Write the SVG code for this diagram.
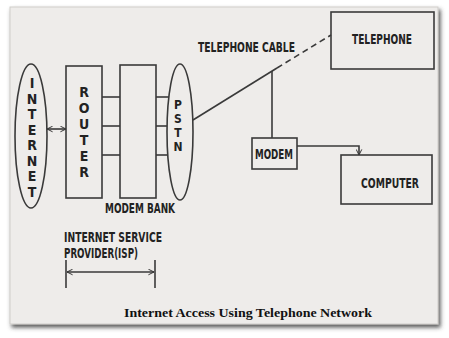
<svg xmlns="http://www.w3.org/2000/svg" width="449" height="338" viewBox="0 0 449 338">
<defs>
<filter id="sh" x="-5%" y="-5%" width="112%" height="115%">
<feDropShadow dx="2" dy="3" stdDeviation="2.2" flood-color="#3a3a3a" flood-opacity="0.85"/>
</filter>
<marker id="ah" viewBox="0 0 10 10" refX="9" refY="5" markerWidth="7" markerHeight="7" orient="auto-start-reverse" markerUnits="userSpaceOnUse">
<path d="M1,1 L9,5 L1,9" fill="none" stroke="#333" stroke-width="1.4"/>
</marker>
</defs>
<style>
.ln{stroke:#3a3a3a;stroke-width:1.6;fill:none}
.bx{stroke:#3a3a3a;stroke-width:1.6;fill:none}
.t{font-family:"Liberation Sans Narrow","DejaVu Sans Condensed","Liberation Sans",sans-serif;font-weight:bold;font-size:14px;fill:#222}
.v{text-anchor:middle}
.p{font-size:12px}
.cap{font-family:"Liberation Serif","Times New Roman",serif;font-weight:bold;font-size:13px;fill:#111}
</style>
<rect x="0" y="0" width="449" height="338" fill="#ffffff"/>
<rect x="10" y="7" width="428" height="317" fill="#eeecea" stroke="#cfcdca" stroke-width="1" filter="url(#sh)"/>

<g id="connectors">
<line class="ln" x1="47" y1="129" x2="66" y2="129" marker-start="url(#ah)" marker-end="url(#ah)"/>
<line class="ln" x1="102" y1="97" x2="120" y2="97"/>
<line class="ln" x1="102" y1="126" x2="120" y2="126"/>
<line class="ln" x1="102" y1="155" x2="120" y2="155"/>
<line class="ln" x1="156" y1="97" x2="169" y2="97"/>
<line class="ln" x1="156" y1="126" x2="167" y2="126"/>
<line class="ln" x1="156" y1="155" x2="168" y2="155"/>
<line class="ln" x1="193" y1="120" x2="277" y2="68"/>
<line class="ln" x1="277" y1="68" x2="331" y2="35" stroke-dasharray="6,4"/>
<line class="ln" x1="272" y1="71" x2="272" y2="138"/>
<polyline class="ln" points="297,146 359,146 359,155" marker-end="url(#ah)"/>
<line class="ln" x1="66" y1="260" x2="66" y2="288"/>
<line class="ln" x1="155" y1="260" x2="155" y2="288"/>
<line class="ln" x1="67" y1="272" x2="154" y2="272" marker-start="url(#ah)" marker-end="url(#ah)"/>
</g>

<g id="internet">
<ellipse class="bx" cx="31" cy="136" rx="16" ry="72"/>
<text class="t v" x="32" y="88">I</text>
<text class="t v" x="32" y="103.5">N</text>
<text class="t v" x="32" y="119">T</text>
<text class="t v" x="32" y="134.5">E</text>
<text class="t v" x="32" y="150">R</text>
<text class="t v" x="32" y="165.5">N</text>
<text class="t v" x="32" y="181">E</text>
<text class="t v" x="32" y="196.5">T</text>
</g>

<g id="router">
<rect class="bx" x="66" y="66" width="36" height="132"/>
<text class="t v" x="84" y="97">R</text>
<text class="t v" x="84" y="113">O</text>
<text class="t v" x="84" y="129">U</text>
<text class="t v" x="84" y="145">T</text>
<text class="t v" x="84" y="161">E</text>
<text class="t v" x="84" y="177">R</text>
</g>

<g id="modem-bank">
<rect class="bx" x="120" y="65" width="36" height="133"/>
<text class="t" x="105" y="213" textLength="70" lengthAdjust="spacingAndGlyphs">MODEM BANK</text>
</g>

<g id="pstn">
<ellipse class="bx" cx="180" cy="132" rx="13" ry="68"/>
<text class="t v p" x="178" y="109">P</text>
<text class="t v p" x="178" y="123">S</text>
<text class="t v p" x="178" y="137">T</text>
<text class="t v p" x="178" y="151">N</text>
</g>

<g id="cable-label">
<text class="t" x="198" y="52" textLength="97" lengthAdjust="spacingAndGlyphs">TELEPHONE CABLE</text>
</g>

<g id="telephone">
<rect class="bx" x="331" y="12" width="103" height="57"/>
<text class="t" x="352" y="44" textLength="60" lengthAdjust="spacingAndGlyphs">TELEPHONE</text>
</g>

<g id="modem">
<rect class="bx" x="252" y="138" width="45" height="31"/>
<text class="t" x="255" y="159" textLength="38" lengthAdjust="spacingAndGlyphs">MODEM</text>
</g>

<g id="computer">
<rect class="bx" x="341" y="155" width="91" height="49"/>
<text class="t" x="361" y="188" textLength="58" lengthAdjust="spacingAndGlyphs">COMPUTER</text>
</g>

<g id="isp">
<text class="t" x="64" y="242" textLength="98" lengthAdjust="spacingAndGlyphs">INTERNET SERVICE</text>
<text class="t" x="64" y="258" textLength="74" lengthAdjust="spacingAndGlyphs">PROVIDER(ISP)</text>
</g>

<text class="cap" x="124" y="317" textLength="248" lengthAdjust="spacingAndGlyphs">Internet Access Using Telephone Network</text>
</svg>
